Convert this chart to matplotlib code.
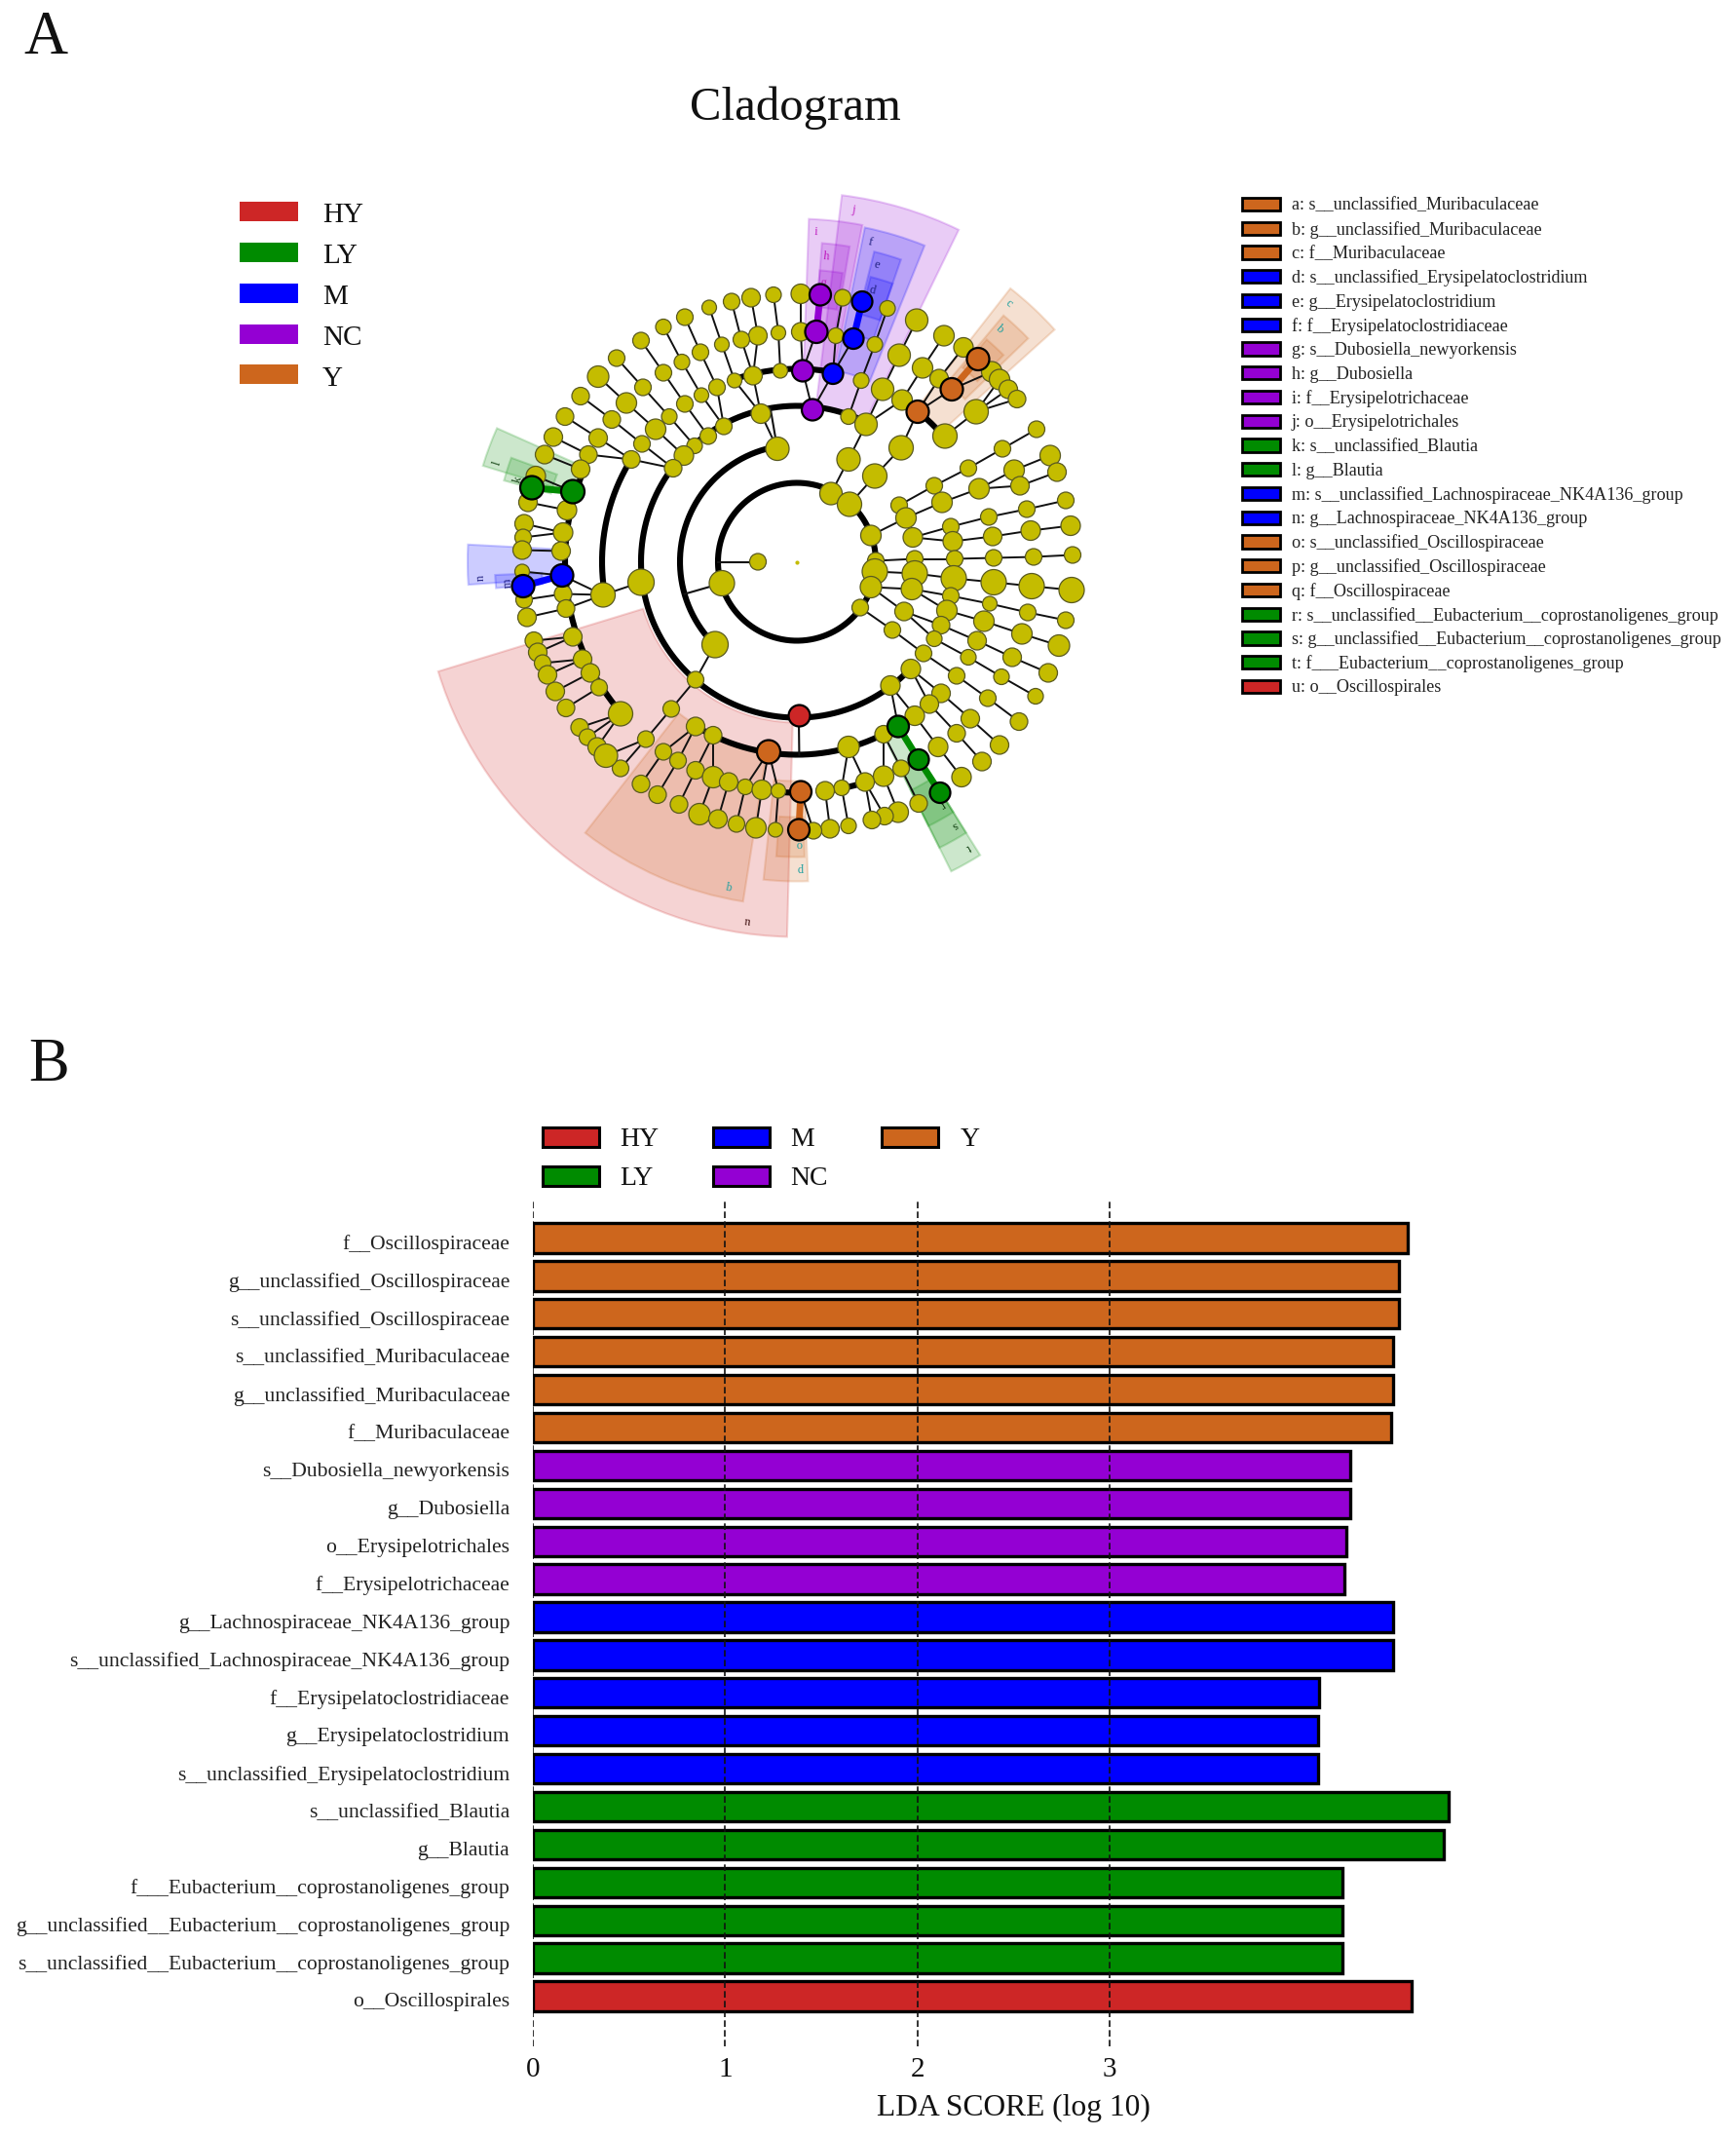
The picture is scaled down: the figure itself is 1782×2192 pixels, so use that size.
import numpy as np
import matplotlib
matplotlib.use("Agg")
import matplotlib.pyplot as plt
from matplotlib.patches import Wedge, Rectangle
from matplotlib.transforms import ScaledTranslation

plt.rcParams['font.family'] = ['Liberation Serif', 'DejaVu Serif']

W, H = 1783, 2192

GROUPS = ['HY', 'LY', 'M', 'NC', 'Y']
COL = {'HY': '#CD2626', 'LY': '#008B00', 'M': '#0000FF', 'NC': '#9400D3', 'Y': '#CD661D'}
YELLOW = '#C4BC00'

# ---------- panel B ----------
bar_names = ['f__Oscillospiraceae', 'g__unclassified_Oscillospiraceae', 's__unclassified_Oscillospiraceae',
             's__unclassified_Muribaculaceae', 'g__unclassified_Muribaculaceae', 'f__Muribaculaceae',
             's__Dubosiella_newyorkensis', 'g__Dubosiella', 'o__Erysipelotrichales', 'f__Erysipelotrichaceae',
             'g__Lachnospiraceae_NK4A136_group', 's__unclassified_Lachnospiraceae_NK4A136_group',
             'f__Erysipelatoclostridiaceae', 'g__Erysipelatoclostridium', 's__unclassified_Erysipelatoclostridium',
             's__unclassified_Blautia', 'g__Blautia', 'f___Eubacterium__coprostanoligenes_group',
             'g__unclassified__Eubacterium__coprostanoligenes_group',
             's__unclassified__Eubacterium__coprostanoligenes_group', 'o__Oscillospirales']
bar_values = [4.55, 4.50, 4.50, 4.47, 4.47, 4.46, 4.25, 4.25, 4.23, 4.22, 4.47, 4.47,
              4.085, 4.08, 4.08, 4.76, 4.735, 4.21, 4.21, 4.21, 4.57]
bar_groups = ['Y'] * 6 + ['NC'] * 4 + ['M'] * 5 + ['LY'] * 5 + ['HY']

# ---------- panel A: right-hand key ----------
key_labels = ['a: s__unclassified_Muribaculaceae', 'b: g__unclassified_Muribaculaceae', 'c: f__Muribaculaceae',
              'd: s__unclassified_Erysipelatoclostridium', 'e: g__Erysipelatoclostridium',
              'f: f__Erysipelatoclostridiaceae', 'g: s__Dubosiella_newyorkensis', 'h: g__Dubosiella',
              'i: f__Erysipelotrichaceae', 'j: o__Erysipelotrichales', 'k: s__unclassified_Blautia', 'l: g__Blautia',
              'm: s__unclassified_Lachnospiraceae_NK4A136_group', 'n: g__Lachnospiraceae_NK4A136_group',
              'o: s__unclassified_Oscillospiraceae', 'p: g__unclassified_Oscillospiraceae', 'q: f__Oscillospiraceae',
              'r: s__unclassified__Eubacterium__coprostanoligenes_group',
              's: g__unclassified__Eubacterium__coprostanoligenes_group',
              't: f___Eubacterium__coprostanoligenes_group', 'u: o__Oscillospirales']
key_groups = ['Y'] * 3 + ['M'] * 3 + ['NC'] * 4 + ['LY'] * 2 + ['M'] * 2 + ['Y'] * 3 + ['LY'] * 3 + ['HY']

# ---------- panel A: tree nodes, (x, y, diameter) in layout units ----------
plain_nodes = [
    (4, 275, 20), (47, 271, 17), (93, 260, 16), (123, 248, 23), (151, 232, 21), (171, 220, 20),
    (200, 195, 21), (208, 187, 21), (217, 177, 19), (226, 167, 18),
    (4, 236, 19), (40, 232, 16), (80, 223, 16), (105, 212, 23), (129, 199, 21), (146, 188, 19), (184, 154, 25),
    (66, 186, 16), (88, 177, 23), (108, 166, 21), (152, 129, 25),
    (53, 149, 16), (71, 141, 23), (53, 105, 24), (107, 117, 25), (80, 88, 25), (35, 70, 23), (54, 59, 25),
    (76, 27, 21), (81, 1, 17), (105, 58, 17), (112, 45, 21), (119, 25, 20), (121, 3, 17),
    (141, 78, 17), (149, 61, 21), (158, 36, 17), (160, 21, 20), (162, 3, 17),
    (176, 96, 17), (187, 75, 21), (197, 46, 17), (201, 26, 19), (202, 4, 17),
    (211, 116, 17), (223, 94, 21), (229, 78, 19), (236, 54, 17), (240, 32, 20), (243, 5, 17),
    (246, 136, 17), (260, 109, 21), (267, 92, 19), (276, 63, 17), (281, 37, 20), (283, 7, 17),
    (-24, 274, 16), (-47, 271, 19), (-67, 267, 17), (-90, 261, 15), (-115, 251, 17), (-137, 241, 16),
    (-160, 227, 17), (-185, 209, 17), (-204, 190, 22), (-222, 170, 18), (-238, 149, 18), (-250, 128, 19),
    (-259, 110, 19), (-268, 88, 20), (-276, 61, 19), (-280, 39, 19), (-281, 25, 17), (-282, 12, 19),
    (-19, 235, 15), (-40, 232, 19), (-57, 228, 17), (-77, 223, 15), (-99, 215, 17), (-118, 205, 16),
    (-137, 194, 17), (-158, 179, 17), (-175, 163, 21), (-190, 146, 18), (-204, 127, 19), (-214, 110, 18),
    (-222, 95, 19), (-236, 53, 20), (-240, 30, 20), (-242, 11, 19),
    (-17, 196, 15), (-45, 191, 19), (-64, 186, 15), (-82, 179, 17), (-98, 171, 15), (-115, 162, 17),
    (-131, 149, 16), (-145, 136, 21), (-159, 121, 17), (-170, 105, 18),
    (-37, 152, 20), (-75, 139, 17), (-91, 129, 17), (-105, 119, 16), (-116, 109, 20), (-127, 96, 18),
    (-20, 116, 24),
    (-282, -10, 15), (-280, -39, 17), (-240, -33, 18), (-277, -57, 19), (-237, -48, 18),
    (-199, -34, 25), (-160, -21, 27), (-77, -22, 26), (-40, 0, 17), (-84, -85, 27), (-104, -121, 17),
    (-129, -151, 17), (-155, -182, 17), (-181, -212, 17),
    (-230, -77, 19), (-220, -100, 19), (-212, -114, 19), (-203, -129, 17), (-181, -156, 25),
    (-270, -81, 18), (-266, -93, 19), (-261, -104, 17), (-256, -116, 19), (-248, -133, 19), (-237, -150, 18),
    (-223, -170, 18), (-215, -180, 17), (-205, -190, 19), (-196, -199, 24),
    (-104, -169, 19), (-86, -178, 18), (-137, -195, 17), (-122, -204, 17), (-104, -214, 18), (-86, -221, 22),
    (-70, -226, 19), (-53, -231, 16), (-36, -234, 20), (-19, -235, 15),
    (-160, -228, 18), (-143, -239, 18), (-121, -249, 18), (-100, -259, 22), (-81, -264, 19), (-62, -269, 17),
    (-42, -273, 21), (-22, -275, 15),
    (80, -10, 26), (76, -26, 22), (65, -47, 17), (121, -12, 26), (118, -28, 22), (110, -51, 19), (98, -70, 17),
    (161, -17, 26), (158, -35, 17), (154, -50, 21), (148, -65, 18), (141, -79, 16), (130, -94, 17),
    (117, -110, 20), (96, -127, 20),
    (202, -21, 26), (198, -43, 15), (192, -61, 21), (185, -81, 19), (176, -98, 16), (164, -117, 17),
    (148, -135, 19), (136, -146, 19), (121, -158, 20), (89, -177, 18), (53, -190, 22),
    (241, -25, 26), (237, -52, 17), (231, -74, 21), (221, -98, 19), (210, -118, 16), (196, -140, 17),
    (178, -161, 19), (164, -176, 18), (145, -190, 20), (107, -212, 17), (89, -220, 21), (70, -226, 19),
    (46, -232, 16), (29, -235, 19),
    (282, -29, 26), (276, -60, 17), (269, -86, 22), (258, -114, 19), (245, -138, 16), (228, -164, 18),
    (208, -188, 19), (190, -205, 19), (169, -221, 20), (125, -248, 18), (104, -257, 21), (90, -261, 18),
    (77, -265, 18), (53, -271, 16), (34, -274, 19), (17, -276, 17),
]
marker_nodes = {
    'Y': [(186, 208, 23), (159, 177, 23), (124, 154, 23), (-29, -195, 24), (4, -236, 22), (2, -275, 22)],
    'NC': [(24, 274, 22), (20, 236, 23), (6, 196, 22), (16, 156, 22)],
    'M': [(67, 267, 21), (58, 229, 21), (37, 193, 21), (-241, -14, 23), (-281, -25, 23)],
    'LY': [(-272, 76, 24), (-230, 72, 24), (104, -169, 22), (125, -203, 21), (147, -237, 21)],
    'HY': [(2, -157, 22)],
}
# thick ring segments: radius, start angle, end angle
ring_arcs = [(81, 0, 360), (120, 100, 225), (160, 63, 317),
             (198, 79, 109), (198, 40, 51), (200, 148, 190), (198, 238, 297),
             (238, 157, 221), (237, 265, 271.5), (237, 281, 287)]
# radial connectors from a parent to the ring of its children: angle, inner, outer
ring_stubs = [(180, 40, 81), (196, 81, 120), (99.8, 118, 160), (270.7, 157, 198)]
# shaded clades: letter, group, start angle, end angle, inner, outer
clades = [('u', 'HY', 197, 268.5, 165, 385), ('q', 'Y', 232, 261, 197, 353), ('p', 'Y', 264, 272, 225, 328),
          ('o', 'Y', 266, 271.5, 262, 303), ('c', 'Y', 42, 52, 200, 356), ('b', 'Y', 44, 50, 240, 330),
          ('a', 'Y', 45, 49.5, 262, 300), ('j', 'NC', 64, 83, 160, 379), ('i', 'NC', 79, 88, 197, 352),
          ('h', 'NC', 80.5, 85.5, 240, 328), ('g', 'NC', 81, 85.5, 262, 300), ('f', 'M', 68, 78.5, 200, 350),
          ('e', 'M', 71, 76, 240, 328), ('d', 'M', 71, 75.5, 262, 302), ('n', 'M', 177, 184, 240, 338),
          ('m', 'M', 182.5, 185, 262, 310), ('l', 'LY', 156, 163, 240, 337), ('k', 'LY', 160, 164.5, 262, 312),
          ('t', 'LY', 296.5, 302, 197, 355), ('s', 'LY', 296.5, 302, 237, 328), ('r', 'LY', 296.5, 302, 262, 303)]
clade_text = {'Y': '#20A0A0', 'NC': '#C020C0', 'M': '#202080', 'LY': '#104010', 'HY': '#401010'}


def fig_box(x0, y0, x1, y1):
    return [x0 / W, 1 - y1 / H, (x1 - x0) / W, (y1 - y0) / H]


def ftext(x, y, s, **kw):
    fig.text(x / W, 1 - y / H, s, **kw)


def frect(x0, y0, x1, y1, fc, ec='none', lw=0):
    fig.add_artist(Rectangle((x0 / W, 1 - y1 / H), (x1 - x0) / W, (y1 - y0) / H,
                             transform=fig.transFigure, fc=fc, ec=ec, lw=lw))


fig = plt.figure(figsize=(W / 100, H / 100), dpi=100, facecolor='white')

ftext(47, 40, 'A', fontsize=45, ha='center', va='center', color='#111111')
ftext(50, 1094, 'B', fontsize=45, ha='center', va='center', color='#111111')
ftext(816, 111, 'Cladogram', fontsize=35, ha='center', va='center', color='#111111')

# ---- left legend of panel A
for i, g in enumerate(GROUPS):
    yc = 216.5 + i * 42
    frect(246, yc - 10, 306, yc + 10, COL[g])
    ftext(331, yc + 4, g, fontsize=21, ha='left', va='center', color='#111111')

# ---- right key of panel A
for i, (lab, g) in enumerate(zip(key_labels, key_groups)):
    yc = 209.5 + i * 24.75
    frect(1275, yc - 6.5, 1314, yc + 6.5, COL[g], ec='black', lw=2)
    ftext(1326, yc + 1.5, lab, fontsize=13.05, ha='left', va='center', color='#222222')

# ---- cladogram
CX, CY, R = 818, 576.5, 440
ax = fig.add_axes(fig_box(CX - R, CY - R, CX + R, CY + R))
ax.set_xlim(-R, R)
ax.set_ylim(-R, R)
ax.axis('off')
ax.patch.set_alpha(0)

for let, g, a0, a1, r0, r1 in clades:
    ax.add_patch(Wedge((0, 0), r1, a0, a1, width=r1 - r0, fc=COL[g], alpha=0.2, ec=COL[g], lw=1.5, zorder=1))
    am = np.deg2rad(a1 - (a1 - a0) * 0.08 - 0.6)
    ax.text((r1 - 13) * np.cos(am), (r1 - 13) * np.sin(am), let, fontsize=9, color=clade_text[g],
            rotation=np.rad2deg(am) - 90, ha='center', va='center', zorder=2)

for r, a0, a1 in ring_arcs:
    t = np.deg2rad(np.linspace(a0, a1, 240))
    ax.plot(r * np.cos(t), r * np.sin(t), color='black', lw=4.4, solid_capstyle='butt', zorder=3)
for a, r0, r1 in ring_stubs:
    t = np.deg2rad(a)
    ax.plot([r0 * np.cos(t), r1 * np.cos(t)], [r0 * np.sin(t), r1 * np.sin(t)], color='#111111', lw=1.5, zorder=3)

all_nodes = [(x, y, d, None) for x, y, d in plain_nodes]
for g, pts in marker_nodes.items():
    all_nodes += [(x, y, d, g) for x, y, d in pts]
info = []
for x, y, d, g in all_nodes:
    info.append((x, y, int(round(np.hypot(x, y) / 40.3)), np.degrees(np.arctan2(y, x)) % 360, g))

for x, y, lev, ang, g in info:
    best, bd = None, 6.5
    for other in info:
        if other[2] == lev - 1:
            diff = abs((ang - other[3] + 180) % 360 - 180)
            if diff < bd:
                best, bd = other, diff
    if best is None:
        continue
    same = g is not None and best[4] == g
    thick = same and (best[2] >= 6 or g == 'LY')
    ax.plot([x, best[0]], [y, best[1]], color=COL[g] if thick else '#111111',
            lw=5 if thick else 1.4, solid_capstyle='butt', zorder=4)

pl = np.array(plain_nodes, float)
ax.scatter(pl[:, 0], pl[:, 1], s=(pl[:, 2] * 0.72) ** 2, c=YELLOW, edgecolors='#5a5a20', linewidths=0.9, zorder=5)
for g, pts in marker_nodes.items():
    p = np.array(pts, float)
    ax.scatter(p[:, 0], p[:, 1], s=(p[:, 2] * 0.72) ** 2, c=COL[g], edgecolors='black', linewidths=1.6, zorder=6)
ax.scatter([0], [0], s=9, c=YELLOW, linewidths=0, zorder=6)

# ---- panel B bars
X0, UNIT, TOP, PITCH = 546.8, 197.5, 1270.5, 38.9
AT, AB, AR = 1232, 2100, 1542
bx = fig.add_axes(fig_box(X0, AT, AR, AB))
bx.set_xlim(0, (AR - X0) / UNIT)
bx.set_ylim((AB - TOP) / PITCH, (AT - TOP) / PITCH)
ypos = np.arange(len(bar_names))
bx.barh(ypos, bar_values, height=0.78, color=[COL[g] for g in bar_groups], edgecolor='black', linewidth=2.4, zorder=2)
bx.set_xticks([0, 1, 2, 3])
bx.set_yticks(ypos)
bx.set_yticklabels(bar_names, fontsize=15.6, color='#222222')
bx.tick_params(axis='y', length=0, pad=17)
bx.tick_params(axis='x', length=0, labelsize=21, pad=8, labelcolor='#111111')
shift = ScaledTranslation(0, -4 / 100, fig.dpi_scale_trans)
for lab in bx.get_yticklabels():
    lab.set_transform(lab.get_transform() + shift)
bx.xaxis.grid(True, color='#111111', lw=1.2, ls=(0, (4, 2)), zorder=3)
bx.set_axisbelow(False)
for s in bx.spines.values():
    s.set_visible(False)
bx.patch.set_alpha(0)
ftext(1040, 2163, 'LDA SCORE (log 10)', fontsize=22.7, ha='center', va='center', color='#111111')

# ---- legend of panel B
for i, g in enumerate(GROUPS):
    col, row = i // 2, i % 2
    x = [557, 732, 905][col]
    tx = [636, 811, 986][col]
    yc = 1167 + row * 40
    frect(x, yc - 10, x + 58, yc + 10, COL[g], ec='black', lw=2.2)
    ftext(tx, yc + 2, g, fontsize=20, ha='left', va='center', color='#111111')

fig.savefig('out.png', dpi=100, facecolor='white')
